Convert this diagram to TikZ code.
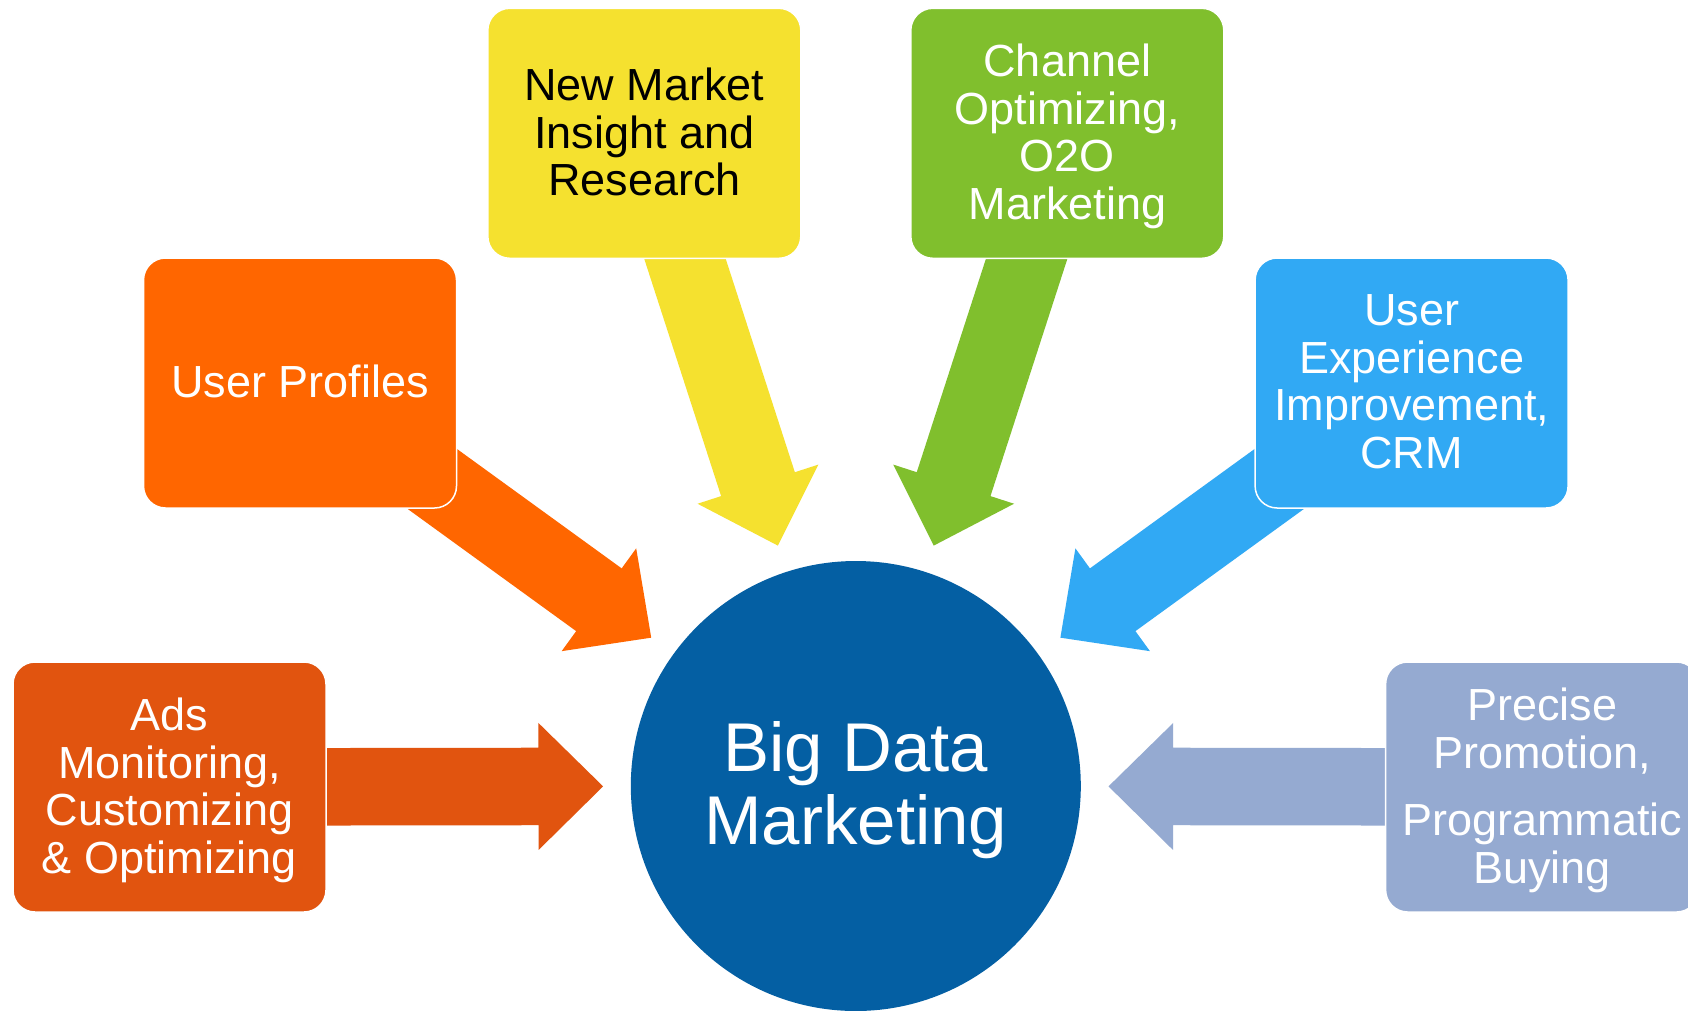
\documentclass[tikz,border=0pt]{standalone}
\usepackage{fontspec}
\setmainfont{Liberation Sans}
\usetikzlibrary{calc,backgrounds}
\definecolor{cads}{HTML}{E1540F}
\definecolor{cprof}{HTML}{FF6600}
\definecolor{cnew}{HTML}{F5E12F}
\definecolor{cchan}{HTML}{80BF2D}
\definecolor{cux}{HTML}{31A9F4}
\definecolor{cprec}{HTML}{95AAD1}
\definecolor{chub}{HTML}{045FA3}
\tikzset{
  box/.style={rounded corners=22pt, minimum width=313pt, minimum height=250pt,
    inner sep=0pt, draw=white, line width=1.5pt, align=center, text=white,
    text depth=3pt, font=\fontsize{45}{47.5}\selectfont},
  hubnode/.style={circle, fill=chub, minimum size=450pt, inner sep=0pt,
    text=white, align=center, text depth=7pt, font=\fontsize{69}{73}\selectfont},
}
\newcommand\blockarrow[3]{%
  \coordinate (#2-n) at ($(#3)!64.6pt!(#2.center)$);
  \fill[#1] ($(#2.center)!38.75pt!90:(#3)$) -- ($(#2-n)!38.75pt!90:(#3)$)
    -- ($(#2-n)!63.5pt!90:(#3)$) -- (#3) -- ($(#2-n)!63.5pt!-90:(#3)$)
    -- ($(#2-n)!38.75pt!-90:(#3)$) -- ($(#2.center)!38.75pt!-90:(#3)$) -- cycle;}
\begin{document}
\begin{tikzpicture}[x=1pt,y=-1pt]
\clip (0,0) rectangle (1688,1010);
\node[hubnode] (hub) at (855.8,786) {Big Data\\Marketing};
\node[box, fill=cads] (ads) at (169.5,787) {Ads\\Monitoring,\\Customizing\\\& Optimizing};
\node[box, fill=cprof] (prof) at (300,383) {User Profiles};
\node[box, fill=cnew, text=black] (new) at (644.3,133.3) {New Market\\Insight and\\Research};
\node[box, fill=cchan] (chan) at (1067.3,133.3) {Channel\\Optimizing,\\O2O\\Marketing};
\node[box, fill=cux] (ux) at (1411.6,383) {User\\Experience\\Improvement,\\CRM};
\node[box, fill=cprec] (prec) at (1542.1,787) {Precise\\Promotion,\\[20pt]Programmatic\\Buying};
\foreach \b in {ads,prof,new,chan,ux,prec}
  \coordinate (\b-t) at ($(hub.center)!252.7pt!(\b.center)$);
\begin{scope}[on background layer]
\fill[white] (0,0) rectangle (1688,1010);
\blockarrow{cads}{ads}{ads-t}
\blockarrow{cprof}{prof}{prof-t}
\blockarrow{cnew}{new}{new-t}
\blockarrow{cchan}{chan}{chan-t}
\blockarrow{cux}{ux}{ux-t}
\blockarrow{cprec}{prec}{prec-t}
\end{scope}
\end{tikzpicture}
\end{document}
